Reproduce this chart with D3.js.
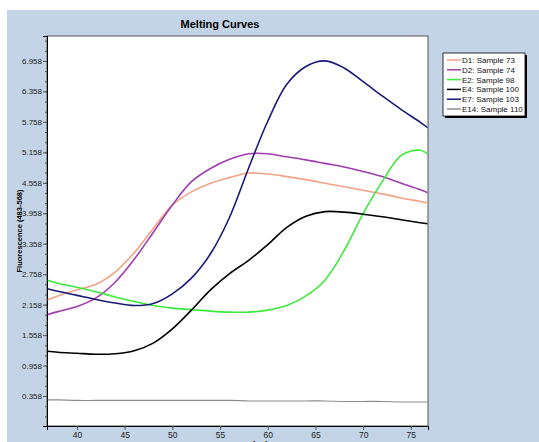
<!DOCTYPE html>
<html><head><meta charset="utf-8">
<script src="https://cdn.jsdelivr.net/npm/d3@7"></script>
<style>body{margin:0;background:#fff;}svg{display:block;}</style>
</head><body>
<svg id="c" width="539" height="442"></svg>
<script>
const temps = [36.9, 38, 40, 42, 44, 46, 48, 50, 52, 54, 56, 58, 60, 62, 64, 66, 68, 70, 72, 74, 76, 76.8];
const seriesNames = ["D1: Sample 73", "D2: Sample 74", "E2: Sample 98", "E4: Sample 100", "E7: Sample 103", "E14: Sample 110"];
const seriesColors = ["#f4a286", "#a03cb0", "#3cea3c", "#000000", "#1c1a78", "#8c8c8c"];
const d1 = [2.25, 2.33, 2.45, 2.56, 2.80, 3.18, 3.66, 4.12, 4.38, 4.55, 4.66, 4.75, 4.73, 4.68, 4.62, 4.55, 4.48, 4.41, 4.34, 4.26, 4.19, 4.16];
const d2 = [1.96, 2.02, 2.12, 2.29, 2.60, 3.05, 3.58, 4.12, 4.58, 4.84, 5.02, 5.13, 5.13, 5.07, 5.01, 4.94, 4.87, 4.78, 4.68, 4.55, 4.42, 4.36];
const e2 = [2.64, 2.58, 2.50, 2.41, 2.31, 2.22, 2.14, 2.09, 2.06, 2.03, 2.01, 2.01, 2.05, 2.14, 2.33, 2.64, 3.22, 3.95, 4.58, 5.10, 5.20, 5.12];
const e4 = [1.24, 1.22, 1.20, 1.18, 1.19, 1.25, 1.40, 1.68, 2.05, 2.45, 2.77, 3.03, 3.34, 3.68, 3.90, 3.99, 3.98, 3.94, 3.89, 3.83, 3.77, 3.75];
const e7 = [2.47, 2.42, 2.34, 2.26, 2.19, 2.14, 2.18, 2.37, 2.68, 3.16, 3.88, 4.85, 5.77, 6.50, 6.85, 6.96, 6.82, 6.55, 6.27, 6.00, 5.75, 5.64];
const e14 = [0.28, 0.28, 0.27, 0.27, 0.27, 0.27, 0.27, 0.27, 0.27, 0.27, 0.27, 0.26, 0.26, 0.26, 0.26, 0.26, 0.25, 0.25, 0.25, 0.24, 0.24, 0.24];
const seriesValues = [d1, d2, e2, e4, e7, e14];
const yTicks = [0.358, 0.958, 1.558, 2.158, 2.758, 3.358, 3.958, 4.558, 5.158, 5.758, 6.358, 6.958];
const xTicks = [40, 45, 50, 55, 60, 65, 70, 75];

const svg = d3.select("#c");
svg.append("rect").attr("x", 7).attr("y", 10).attr("width", 532).attr("height", 432).attr("fill", "#c2d4e5");

const L = 47, R = 428, T = 36, B = 426;
const x = d3.scaleLinear().domain([36.86, 76.8]).range([L, R]);
const y = d3.scaleLinear().domain([-0.233, 7.45]).range([B, T]);

svg.append("rect").attr("x", L).attr("y", T).attr("width", R - L).attr("height", B - T)
  .attr("fill", "#fff").attr("stroke", "#555").attr("stroke-width", 1);

svg.append("text").attr("x", 220).attr("y", 28).attr("text-anchor", "middle")
  .attr("font-family", "Liberation Sans, Arial, sans-serif").attr("font-weight", "bold").attr("font-size", 11)
  .text("Melting Curves");

// Minor y ticks
const minor = d3.range(-0.042, 7.45, 0.2);
svg.append("g").attr("transform", `translate(${L},0)`)
  .call(d3.axisLeft(y).tickValues(minor).tickSize(2).tickFormat(""))
  .call(g => { g.select(".domain").remove(); g.selectAll("line").attr("stroke", "#555"); });

const yAxis = svg.append("g").attr("transform", `translate(${L},0)`)
  .call(d3.axisLeft(y).tickValues(yTicks).tickSize(4).tickPadding(1).tickFormat(d3.format(".3f")));
yAxis.select(".domain").attr("stroke", "#000");
yAxis.selectAll("line").attr("stroke", "#555");
yAxis.selectAll("text").attr("font-family", "Liberation Sans, Arial, sans-serif").attr("font-size", 8).attr("fill", "#222");

const xAxis = svg.append("g").attr("transform", `translate(0,${B})`)
  .call(d3.axisBottom(x).tickValues(xTicks).tickSize(4).tickPadding(2));
xAxis.select(".domain").attr("stroke", "#000");
xAxis.selectAll("line").attr("stroke", "#555");
xAxis.selectAll("text").attr("font-family", "Liberation Sans, Arial, sans-serif").attr("font-size", 8.5).attr("fill", "#222");

svg.append("text").attr("transform", "translate(22,231) rotate(-90)").attr("text-anchor", "middle")
  .attr("font-family", "Liberation Sans, Arial, sans-serif").attr("font-weight", "bold").attr("font-size", 7.5)
  .text("Fluorescence (483-568)");

// x-axis title sits at the bottom edge, partly cropped as in the reference
svg.append("text").attr("x", 232).attr("y", 448).attr("text-anchor", "middle")
  .attr("font-family", "Liberation Sans, Arial, sans-serif").attr("font-weight", "bold").attr("font-size", 9)
  .text("Temperature (°C)");

svg.append("clipPath").attr("id", "pc").append("rect")
  .attr("x", L + 0.5).attr("y", T + 0.5).attr("width", R - L - 1).attr("height", B - T - 1);

const line = d3.line().x(d => x(d[0])).y(d => y(d[1])).curve(d3.curveCatmullRom.alpha(0.5));
const gLines = svg.append("g").attr("clip-path", "url(#pc)");
seriesValues.forEach((vals, i) => {
  gLines.append("path").datum(temps.map((t, j) => [t, vals[j]]))
    .attr("fill", "none").attr("stroke", seriesColors[i]).attr("stroke-width", i === 5 ? 1.2 : 1.6)
    .attr("d", line);
});

// Legend
const lx = 443, ly = 53, lw = 82, lh = 63;
svg.append("rect").attr("x", lx + 2).attr("y", ly + 2).attr("width", lw).attr("height", lh).attr("fill", "#000");
svg.append("rect").attr("x", lx).attr("y", ly).attr("width", lw).attr("height", lh).attr("fill", "#fff").attr("stroke", "#000").attr("stroke-width", 0.8);
seriesNames.forEach((n, i) => {
  const yy = ly + 7 + i * 9.8;
  svg.append("line").attr("x1", lx + 4).attr("x2", lx + 18).attr("y1", yy).attr("y2", yy)
    .attr("stroke", seriesColors[i]).attr("stroke-width", 1.5);
  svg.append("text").attr("x", lx + 19).attr("y", yy + 3).attr("font-family", "Liberation Sans, Arial, sans-serif")
    .attr("font-size", 8).attr("fill", "#111").text(n);
});
</script>
</body></html>
